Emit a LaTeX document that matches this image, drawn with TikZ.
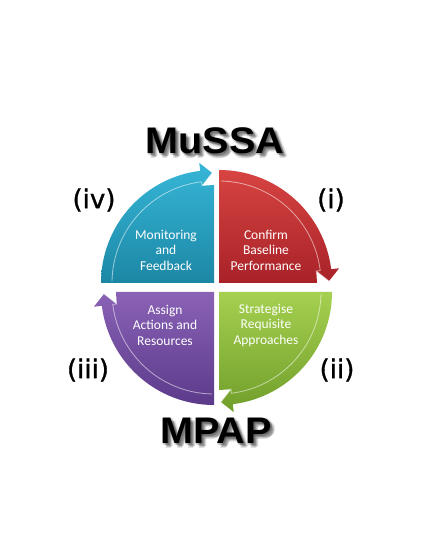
\documentclass[tikz,border=0pt]{standalone}
\usepackage{fontspec}
\setmainfont{Carlito}
\newfontfamily\bigfont{Liberation Sans}
\newfontfamily\labfont[FakeBold=1.2]{DejaVu Sans}
\definecolor{bluetop}{RGB}{55,182,215}
\definecolor{bluebot}{RGB}{28,135,165}
\definecolor{redtop}{RGB}{215,68,66}
\definecolor{redbot}{RGB}{168,34,40}
\definecolor{greentop}{RGB}{165,208,80}
\definecolor{greenbot}{RGB}{112,158,42}
\definecolor{purptop}{RGB}{138,98,182}
\definecolor{purpbot}{RGB}{92,58,138}
\newcommand\mysegment[5]{%
\begin{scope}[shift={(#1,#2)}]
 \path[top color=#4, bottom color=#5]
   (0,0) -- ({#3+90}:113pt)
   arc[start angle={#3+90}, end angle={#3+7}, radius=113pt]
   -- ({#3+7}:121pt) -- ({#3+1}:110pt) -- ({#3+7}:98pt) -- (#3:98pt) -- cycle;
 \draw[white, opacity=.55, line width=.8pt]
   ({#3+89}:102pt) arc[start angle={#3+89}, end angle={#3+7}, radius=102pt]
   -- ({#3+7}:98pt) -- ({#3+1}:110pt);
\end{scope}}
\tikzset{
  segtext/.style={text=white, align=center, font=\fontsize{13.5}{15.5}\selectfont},
  roman/.style={font=\labfont\fontsize{26}{30}\selectfont, text=black},
  bigtitle/.style={font=\bigfont\bfseries\fontsize{37}{40}\selectfont, xscale=1.07},
  titleshadow/.style={bigtitle, text=black, opacity=.12},
}
\begin{document}
\begin{tikzpicture}[x=1pt,y=1pt]
\useasboundingbox (0,0) rectangle (437,549);
\fill[white] (0,0) rectangle (437,549);
% segments (pixel y flipped: y = 549 - py)
\mysegment{214}{266}{90}{bluetop}{bluebot}
\mysegment{219}{266}{0}{redtop}{redbot}
\mysegment{219}{257}{-90}{greentop}{greenbot}
\mysegment{214}{257}{-180}{purptop}{purpbot}
% segment texts
\node[segtext] (mon) at (166,299) {Monitoring\\and\\Feedback};
\node[segtext] (con) at (266,299) {Confirm\\Baseline\\Performance};
\node[segtext] (asg) at (165,224) {Assign\\Actions and\\Resources};
\node[segtext] (str) at (266,224) {Strategise\\Requisite\\Approaches};
% titles with soft shadow
\foreach \dx/\dy in {1/-1,2/-2,3/-3,4/-4,5/-3,3/-5,2/0,0/-2}{
  \node[titleshadow] at (215+\dx,408+\dy) {MuSSA};
  \node[titleshadow] at (216+\dx,118+\dy) {MPAP};
}
\node[bigtitle] (mussa) at (215,408) {MuSSA};
\node[bigtitle] (mpap) at (216,118) {MPAP};
% roman numerals
\node[roman] (iv) at (94,349) {(iv)};
\node[roman] (i) at (331,349) {(i)};
\node[roman] (iii) at (88,179) {(iii)};
\node[roman] (ii) at (337,179) {(ii)};
\end{tikzpicture}
\end{document}
